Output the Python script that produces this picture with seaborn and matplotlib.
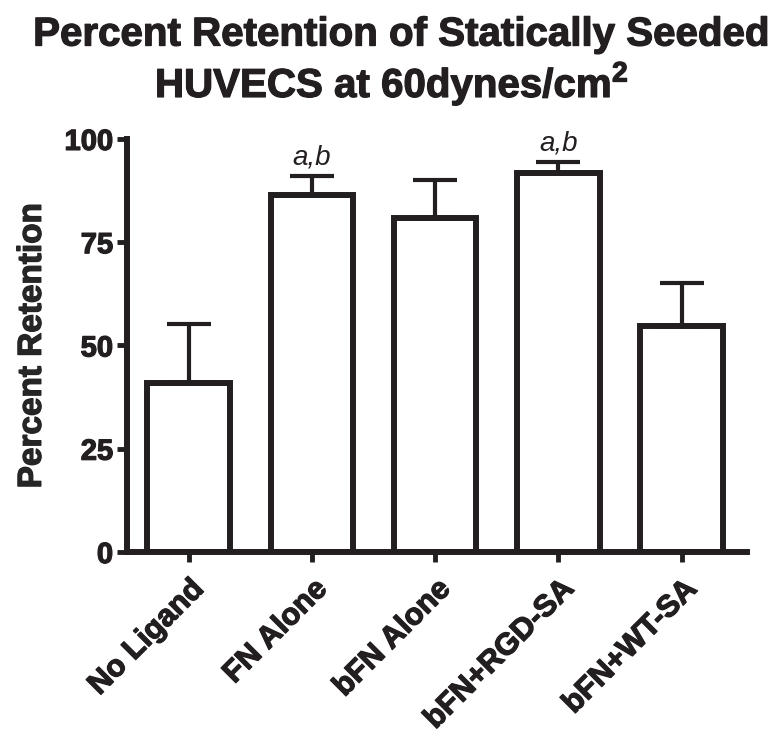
import numpy as np
import pandas as pd
import matplotlib
matplotlib.use("Agg")
import matplotlib.pyplot as plt
import matplotlib.patheffects as pe
import seaborn as sns

# values
groups = ["No Ligand", "FN Alone", "bFN Alone", "bFN+RGD-SA", "bFN+WT-SA"]
retention = [41.0, 86.4, 80.8, 91.8, 54.8]
sem = [14.3, 4.7, 9.3, 2.7, 10.4]
marks = ["", "a,b", "", "a,b", ""]
y_ticks = [0, 25, 50, 75, 100]

ink = "#231f20"
sns.set_theme(style="ticks")
plt.rcParams["font.family"] = ["Liberation Sans", "DejaVu Sans"]
plt.rcParams["font.weight"] = "bold"
plt.rcParams["mathtext.fontset"] = "custom"
plt.rcParams["mathtext.bf"] = "Liberation Sans:bold"
plt.rcParams["mathtext.rm"] = "Liberation Sans:bold"

heavy = [pe.withStroke(linewidth=0.9, foreground=ink)]

df = pd.DataFrame({"group": groups, "retention": retention})

fig = plt.figure(figsize=(7.68, 7.35), dpi=100)
ax = fig.add_axes([0.1654, 0.249, 0.8073, 0.562])

lw = 4.3
sns.barplot(data=df, x="group", y="retention", order=groups, color="white",
            edgecolor=ink, linewidth=lw, width=0.67, errorbar=None, ax=ax)

x = np.arange(len(groups))
ax.errorbar(x, retention, yerr=[np.zeros(len(sem)), sem], fmt="none",
            ecolor=ink, elinewidth=3.0, capsize=16, capthick=3.0, zorder=1)

for xi, val, err, m in zip(x, retention, sem, marks):
    if m:
        ax.text(xi, val + err + 1.2, m, ha="center", va="bottom", fontsize=20,
                style="italic", fontweight="normal", color=ink)

ax.set_xlim(-0.5, 4.53)
ax.set_ylim(0, 100)
ax.set_yticks(y_ticks)
ax.set_yticklabels([str(t) for t in y_ticks], fontsize=21, fontweight="bold")
ax.set_xticks(x)
ax.set_xticklabels(groups, rotation=45, ha="right", rotation_mode="anchor",
                   fontsize=22, fontweight="bold")
ax.set_xlabel("")
ax.set_ylabel("Percent Retention", fontsize=24, fontweight="bold", labelpad=12,
              path_effects=heavy)
for lab in ax.get_xticklabels() + ax.get_yticklabels():
    lab.set_path_effects(heavy)
    lab.set_color(ink)

for side in ["left", "bottom"]:
    ax.spines[side].set_linewidth(lw)
    ax.spines[side].set_color(ink)
sns.despine(ax=ax)
ax.tick_params(axis="both", width=3.5, length=7, color=ink, pad=3)
ax.tick_params(axis="x", pad=9)

fig.text(0.522, 0.953, "Percent Retention of Statically Seeded", ha="center", va="center",
         fontsize=29, fontweight="bold", color=ink, path_effects=heavy)
fig.text(0.51, 0.886, r"HUVECS at 60dynes/cm$^{\mathbf{2}}$", ha="center", va="center",
         fontsize=29, fontweight="bold", color=ink, path_effects=heavy)

fig.savefig("out.png", dpi=100)
